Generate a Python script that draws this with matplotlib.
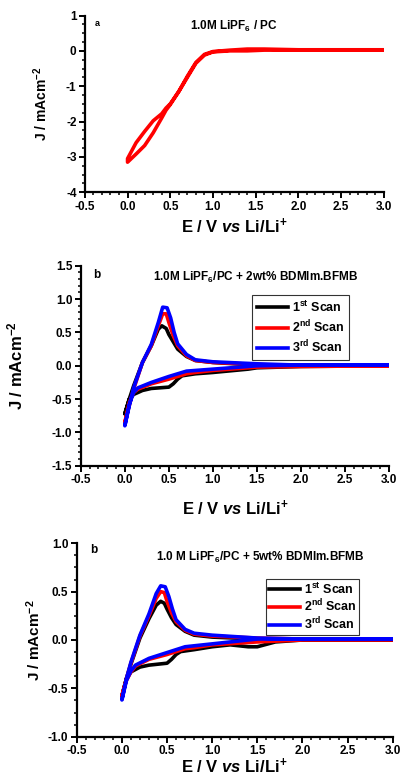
import matplotlib
matplotlib.use("Agg")
import matplotlib.pyplot as plt
from matplotlib.ticker import MultipleLocator, FormatStrFormatter

plt.rcParams['font.family'] = ['Liberation Sans', 'DejaVu Sans']
plt.rcParams['font.weight'] = 'bold'
plt.rcParams['mathtext.fontset'] = 'custom'
plt.rcParams['mathtext.rm'] = 'Liberation Sans:bold'
plt.rcParams['mathtext.it'] = 'Liberation Sans:bold:italic'
plt.rcParams['mathtext.bf'] = 'Liberation Sans:bold'

# ---- Panel a: 1.0M LiPF6 / PC ----
a_E = [3.0, 2.0, 1.6, 1.4, 1.2, 1.0, 0.9, 0.8, 0.7, 0.6, 0.5, 0.45, 0.4, 0.3, 0.2, 0.1, 0.0,
       0.0, 0.1, 0.2, 0.3, 0.4, 0.45, 0.5, 0.6, 0.7, 0.8, 0.9, 1.0, 1.2, 1.4, 1.6, 2.0, 3.0]
a_J = [0.02, 0.02, 0.02, 0.0, 0.0, -0.03, -0.12, -0.35, -0.75, -1.15, -1.5, -1.62, -1.78, -1.98, -2.28, -2.6, -3.05,
       -3.15, -2.92, -2.68, -2.32, -1.9, -1.68, -1.52, -1.15, -0.72, -0.33, -0.1, -0.02, 0.02, 0.05, 0.05, 0.03, 0.03]

# ---- Panel b: + 2wt% BDMIm.BFMB ----
b1_E = [3.0, 2.0, 1.5, 1.4, 1.0, 0.8, 0.65, 0.6, 0.55, 0.5, 0.4, 0.3, 0.2, 0.1, 0.05, 0.0,
        0.05, 0.1, 0.2, 0.3, 0.38, 0.42, 0.47, 0.5, 0.55, 0.6, 0.7, 0.8, 1.0, 1.5, 2.0, 3.0]
b1_J = [0.0, -0.01, -0.03, -0.05, -0.1, -0.12, -0.15, -0.2, -0.27, -0.32, -0.33, -0.34, -0.37, -0.43, -0.5, -0.72,
        -0.5, -0.3, 0.05, 0.3, 0.55, 0.6, 0.56, 0.47, 0.36, 0.25, 0.14, 0.08, 0.05, 0.01, 0.0, 0.0]
b2_E = [3.0, 2.0, 1.5, 1.0, 0.8, 0.7, 0.5, 0.3, 0.15, 0.1, 0.05, 0.0,
        0.05, 0.1, 0.2, 0.3, 0.38, 0.43, 0.47, 0.5, 0.55, 0.6, 0.7, 0.8, 1.0, 1.5, 2.0, 3.0]
b2_J = [0.0, -0.01, -0.02, -0.07, -0.1, -0.12, -0.2, -0.27, -0.35, -0.4, -0.55, -0.85,
        -0.6, -0.35, 0.05, 0.3, 0.6, 0.78, 0.78, 0.65, 0.45, 0.3, 0.15, 0.08, 0.05, 0.02, 0.0, 0.0]
b3_E = [3.0, 2.0, 1.5, 1.0, 0.8, 0.7, 0.5, 0.3, 0.15, 0.1, 0.05, 0.0,
        0.05, 0.1, 0.2, 0.3, 0.38, 0.43, 0.48, 0.52, 0.56, 0.6, 0.7, 0.8, 1.0, 1.5, 2.0, 3.0]
b3_J = [0.01, 0.01, 0.0, -0.05, -0.07, -0.08, -0.16, -0.25, -0.33, -0.4, -0.58, -0.9,
        -0.6, -0.33, 0.05, 0.32, 0.65, 0.88, 0.87, 0.72, 0.5, 0.33, 0.17, 0.09, 0.06, 0.03, 0.01, 0.01]

# ---- Panel c: + 5wt% BDMIm.BFMB ----
c1_E = [3.0, 2.0, 1.7, 1.5, 1.4, 1.2, 1.0, 0.8, 0.65, 0.6, 0.55, 0.5, 0.4, 0.3, 0.2, 0.1, 0.05, 0.0,
        0.05, 0.1, 0.2, 0.3, 0.38, 0.43, 0.47, 0.5, 0.55, 0.6, 0.7, 0.8, 1.0, 1.5, 2.0, 3.0]
c1_J = [0.0, 0.0, -0.02, -0.07, -0.07, -0.05, -0.07, -0.1, -0.12, -0.15, -0.2, -0.24, -0.25, -0.26, -0.28, -0.33, -0.4, -0.58,
        -0.4, -0.25, 0.02, 0.22, 0.36, 0.4, 0.38, 0.32, 0.23, 0.16, 0.09, 0.05, 0.03, 0.01, 0.0, 0.0]
c2_E = [3.0, 2.0, 1.5, 1.0, 0.8, 0.7, 0.5, 0.3, 0.15, 0.1, 0.05, 0.0,
        0.05, 0.1, 0.2, 0.3, 0.38, 0.43, 0.47, 0.5, 0.55, 0.6, 0.7, 0.8, 1.0, 1.5, 2.0, 3.0]
c2_J = [0.0, 0.0, -0.02, -0.05, -0.08, -0.09, -0.15, -0.2, -0.27, -0.33, -0.42, -0.58,
        -0.4, -0.24, 0.04, 0.25, 0.43, 0.5, 0.49, 0.4, 0.28, 0.19, 0.1, 0.06, 0.04, 0.02, 0.01, 0.01]
c3_E = [3.0, 2.0, 1.5, 1.0, 0.8, 0.7, 0.5, 0.3, 0.15, 0.1, 0.05, 0.0,
        0.05, 0.1, 0.2, 0.3, 0.38, 0.43, 0.48, 0.52, 0.56, 0.6, 0.7, 0.8, 1.0, 1.5, 2.0, 3.0]
c3_J = [0.01, 0.01, 0.01, -0.04, -0.06, -0.07, -0.13, -0.19, -0.26, -0.32, -0.42, -0.62,
        -0.4, -0.23, 0.05, 0.27, 0.48, 0.56, 0.55, 0.45, 0.32, 0.21, 0.11, 0.07, 0.05, 0.02, 0.01, 0.01]

scan_labels = ['1$^{\\mathrm{st}}$ Scan', '2$^{\\mathrm{nd}}$ Scan', '3$^{\\mathrm{rd}}$ Scan']
scan_colors = ['black', 'red', 'blue']

fig = plt.figure(figsize=(4.04, 7.75), dpi=100)

ylabel = 'J / mAcm$^{\\mathrm{-2}}$'
xlabel = 'E / V $\\mathit{vs}$ Li/Li$^{\\mathrm{+}}$'


def style(ax, ylim, ymaj, ymin, ylab_size, ylab_x, xlab_pad, fmt):
    ax.set_xlim(-0.5, 3.0)
    ax.set_ylim(*ylim)
    ax.xaxis.set_major_locator(MultipleLocator(0.5))
    ax.xaxis.set_minor_locator(MultipleLocator(0.1))
    ax.yaxis.set_major_locator(MultipleLocator(ymaj))
    ax.yaxis.set_minor_locator(MultipleLocator(ymin))
    ax.yaxis.set_major_formatter(FormatStrFormatter(fmt))
    ax.xaxis.set_major_formatter(FormatStrFormatter('%.1f'))
    ax.spines['top'].set_visible(False)
    ax.spines['right'].set_visible(False)
    ax.spines['left'].set_linewidth(1.6)
    ax.spines['bottom'].set_linewidth(1.6)
    ax.tick_params(which='major', length=4, width=1.4, labelsize=8.5, pad=2)
    ax.tick_params(which='minor', length=2.5, width=1.1)
    for lab in ax.get_xticklabels() + ax.get_yticklabels():
        lab.set_fontweight('bold')
    ax.set_ylabel(ylabel, fontsize=ylab_size, fontweight='bold')
    ax.yaxis.set_label_coords(ylab_x, 0.5)
    ax.set_xlabel(xlabel, fontsize=12, fontweight='bold', labelpad=xlab_pad)


# Panel a
ax1 = fig.add_axes([0.210, 0.752, 0.740, 0.228])
ax1.plot(a_E, a_J, color='red', lw=2.6)
style(ax1, (-4, 1), 1, 0.25, 10, -0.117, 3, '%d')
ax1.text(0.033, 0.953, 'a', transform=ax1.transAxes, fontsize=6.5, fontweight='bold', va='center')
ax1.text(0.498, 0.936, '1.0M LiPF$_6$ / PC', transform=ax1.transAxes, fontsize=8.5,
         fontweight='bold', ha='center', va='center')

# Panel b
ax2 = fig.add_axes([0.200, 0.399, 0.763, 0.258])
for E, J, c, l in zip([b1_E, b2_E, b3_E], [b1_J, b2_J, b3_J], scan_colors, scan_labels):
    ax2.plot(E, J, color=c, lw=2.6, label=l)
style(ax2, (-1.5, 1.5), 0.5, 0.1, 12, -0.18, 9, '%.1f')
ax2.text(0.04, 0.953, 'b', transform=ax2.transAxes, fontsize=8.5, fontweight='bold', va='center')
ax2.text(0.567, 0.943, '1.0M LiPF$_6$/PC + 2wt% BDMIm.BFMB', transform=ax2.transAxes, fontsize=8.5,
         fontweight='bold', ha='center', va='center')
leg2 = ax2.legend(loc='upper left', bbox_to_anchor=(0.556, 0.854), frameon=True,
                  fancybox=False, edgecolor='black', handlelength=2.5, handletextpad=0.3,
                  borderpad=0.35, labelspacing=0.3, borderaxespad=0,
                  prop={'weight': 'bold', 'size': 9})
leg2.get_frame().set_linewidth(0.8)

# Panel c
ax3 = fig.add_axes([0.190, 0.0494, 0.782, 0.2496])
for E, J, c, l in zip([c1_E, c2_E, c3_E], [c1_J, c2_J, c3_J], scan_colors, scan_labels):
    ax3.plot(E, J, color=c, lw=2.6, label=l)
style(ax3, (-1.0, 1.0), 0.5, 0.125, 11, -0.107, 0, '%.1f')
ax3.text(0.042, 0.965, 'b', transform=ax3.transAxes, fontsize=8.5, fontweight='bold', va='center')
ax3.text(0.58, 0.929, '1.0 M LiPF$_6$/PC + 5wt% BDMIm.BFMB', transform=ax3.transAxes, fontsize=8.5,
         fontweight='bold', ha='center', va='center')
leg3 = ax3.legend(loc='upper left', bbox_to_anchor=(0.599, 0.815), frameon=True,
                  fancybox=False, edgecolor='black', handlelength=2.5, handletextpad=0.3,
                  borderpad=0.2, labelspacing=0.1, borderaxespad=0,
                  prop={'weight': 'bold', 'size': 9})
leg3.get_frame().set_linewidth(0.8)

fig.savefig('out.png', dpi=100)
